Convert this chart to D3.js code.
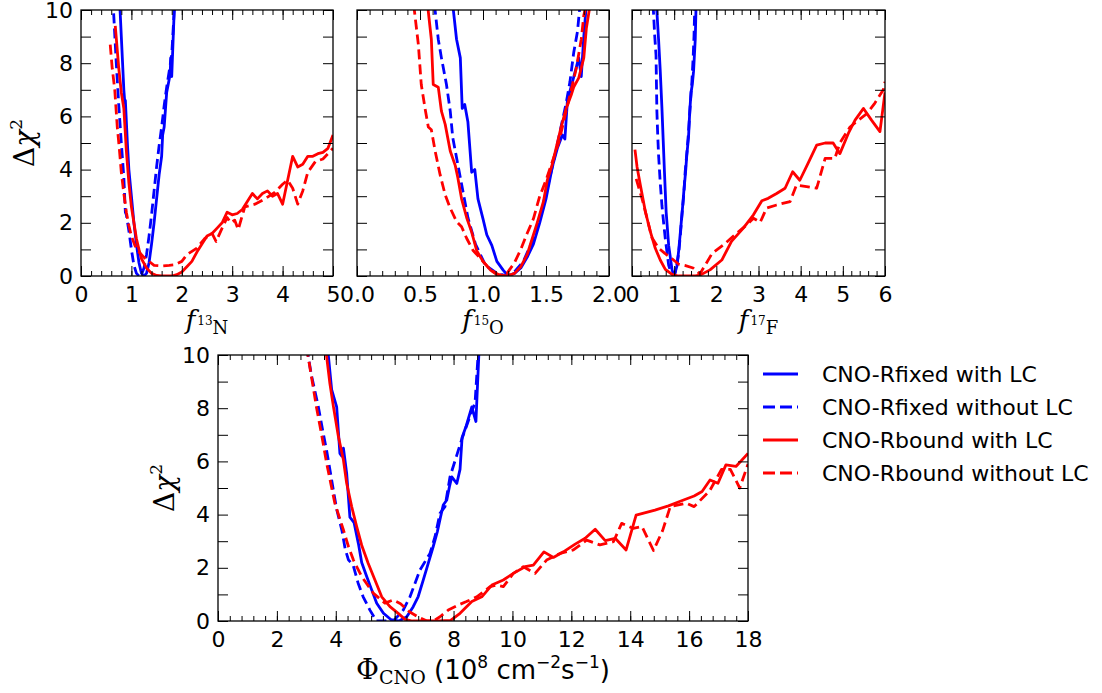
<!DOCTYPE html>
<html>
<head>
<meta charset="utf-8">
<script src="https://cdn.jsdelivr.net/npm/d3@7"></script>
<style>
body{margin:0;background:#fff;}
svg{display:block;}
.tick text{font-family:"DejaVu Sans",sans-serif;font-size:22px;fill:#000;}
.tick line{stroke:#000;stroke-width:1;}
</style>
</head>
<body>
<svg width="1102" height="693"></svg>
<script>
// ---- data: [x, delta chi2] ----
var n13FixedLC = [[0.75,11],[0.80,9.0],[0.85,7.0],[0.87,6.5],[0.88,6.6],[0.92,5.0],[0.95,4.0],[1.00,3.0],[1.05,2.0],[1.10,1.2],[1.15,0.5],[1.20,0.1],[1.25,0.0],[1.30,0.1],[1.35,0.5],[1.40,1.2],[1.45,2.0],[1.50,2.9],[1.55,3.8],[1.60,4.5],[1.62,5.3],[1.65,5.6],[1.70,6.9],[1.75,7.4],[1.77,7.6],[1.78,8.2],[1.80,7.5],[1.82,8.5],[1.85,10],[1.88,11]];
var n13FixedNoLC = [[0.62,11],[0.65,9.8],[0.70,8.0],[0.75,6.4],[0.80,5.0],[0.85,3.7],[0.88,2.4],[0.90,2.3],[0.95,1.7],[1.00,1.0],[1.05,0.4],[1.10,0.1],[1.15,0.0],[1.20,0.05],[1.25,0.3],[1.30,0.8],[1.35,1.5],[1.40,2.3],[1.45,3.2],[1.50,4.1],[1.55,4.9],[1.60,5.6],[1.65,6.4],[1.70,7.1],[1.75,7.7],[1.80,8.3],[1.85,10],[1.87,11]];
var n13BoundLC = [[0.68,9.4],[0.75,7.8],[0.80,6.9],[0.85,6.3],[0.90,4.7],[0.95,3.5],[1.00,2.6],[1.05,2.0],[1.10,1.4],[1.15,1.0],[1.20,0.65],[1.30,0.3],[1.40,0.1],[1.50,0.02],[1.60,0],[1.70,0],[1.80,0],[1.90,0.05],[2.0,0.15],[2.1,0.35],[2.2,0.55],[2.3,0.9],[2.4,1.2],[2.5,1.5],[2.6,1.6],[2.7,1.8],[2.8,2.0],[2.9,2.4],[3.0,2.3],[3.1,2.35],[3.2,2.5],[3.3,2.8],[3.4,3.1],[3.5,2.9],[3.6,3.1],[3.7,3.2],[3.8,3.0],[3.9,3.1],[4.0,2.7],[4.1,3.6],[4.2,4.5],[4.3,4.1],[4.4,4.2],[4.5,4.5],[4.6,4.5],[4.7,4.6],[4.8,4.65],[4.9,4.8],[5.0,5.3]];
var n13BoundNoLC = [[0.58,8.7],[0.62,7.8],[0.67,7.0],[0.72,5.6],[0.76,4.8],[0.80,3.9],[0.85,3.1],[0.90,2.4],[0.95,1.9],[1.0,1.5],[1.07,1.15],[1.15,0.9],[1.25,0.7],[1.35,0.55],[1.45,0.4],[1.6,0.38],[1.75,0.4],[1.85,0.42],[2.0,0.55],[2.1,0.8],[2.3,1.05],[2.45,1.4],[2.6,1.6],[2.68,1.3],[2.8,1.8],[2.9,2.2],[2.97,2.0],[3.05,2.1],[3.12,1.75],[3.25,2.6],[3.45,2.7],[3.65,2.9],[3.85,3.15],[4.0,3.45],[4.1,3.6],[4.2,3.3],[4.3,2.7],[4.4,3.2],[4.5,3.9],[4.65,4.3],[4.8,4.4],[4.9,4.6],[5.0,4.8]];

var o15FixedLC = [[0.76,10.2],[0.79,8.9],[0.82,8.2],[0.835,6.3],[0.855,6.45],[0.88,5.8],[0.91,3.9],[0.935,4.0],[0.96,2.9],[1.0,2.15],[1.03,1.55],[1.07,1.15],[1.11,0.55],[1.16,0.22],[1.20,0.0],[1.25,0.1],[1.30,0.3],[1.35,0.7],[1.40,1.2],[1.45,2.0],[1.50,2.9],[1.55,4.1],[1.59,4.8],[1.63,5.3],[1.65,5.15],[1.67,6.6],[1.71,7.3],[1.76,8.2],[1.78,7.5],[1.80,9.0],[1.82,10.2]];
var o15FixedNoLC = [[0.615,10.2],[0.645,8.9],[0.67,8.2],[0.71,7.2],[0.74,6.2],[0.76,5.2],[0.80,4.2],[0.84,3.2],[0.88,2.2],[0.94,1.2],[1.02,0.4],[1.11,0.1],[1.19,0.0],[1.24,0.1],[1.32,0.55],[1.40,1.4],[1.46,2.4],[1.51,3.3],[1.56,4.3],[1.61,5.4],[1.66,6.5],[1.69,7.3],[1.72,8.4],[1.75,9.2],[1.77,10.2]];
var o15BoundLC = [[0.56,10.2],[0.59,8.9],[0.605,7.2],[0.645,7.1],[0.67,6.2],[0.70,5.7],[0.74,4.7],[0.78,4.15],[0.80,3.7],[0.83,2.9],[0.87,2.2],[0.91,1.65],[0.95,0.95],[1.0,0.55],[1.06,0.22],[1.11,0.05],[1.19,0.0],[1.25,0.1],[1.30,0.35],[1.35,0.8],[1.43,2.0],[1.48,2.8],[1.51,3.6],[1.55,4.2],[1.585,4.9],[1.62,5.6],[1.66,6.3],[1.70,6.8],[1.72,7.1],[1.76,7.45],[1.80,8.2],[1.82,9.3],[1.85,10.2]];
var o15BoundNoLC = [[0.45,10.2],[0.487,8.7],[0.51,7.2],[0.54,6.3],[0.566,5.6],[0.59,5.5],[0.62,4.7],[0.66,3.8],[0.70,3.05],[0.74,2.55],[0.79,2.05],[0.83,1.85],[0.87,1.42],[0.92,0.97],[0.99,0.6],[1.06,0.23],[1.13,0.03],[1.19,0.1],[1.25,0.5],[1.30,1.0],[1.35,1.6],[1.40,2.15],[1.45,3.0],[1.50,3.6],[1.55,4.3],[1.60,5.0],[1.65,6.0],[1.70,7.0],[1.74,7.8],[1.78,8.9],[1.80,9.8],[1.82,10.2]];

var f17FixedLC = [[0.58,10.2],[0.63,8.9],[0.67,7.7],[0.71,6.3],[0.74,5.1],[0.77,3.9],[0.81,2.4],[0.87,1.15],[0.95,0.23],[1.0,0.0],[1.07,0.4],[1.11,1.0],[1.15,1.7],[1.20,2.6],[1.23,3.2],[1.27,3.9],[1.30,4.55],[1.34,5.2],[1.37,6.2],[1.40,6.9],[1.43,7.2],[1.46,7.7],[1.50,8.9],[1.52,10.2]];
var f17FixedNoLC = [[0.50,10.2],[0.54,9.0],[0.57,8.3],[0.58,7.2],[0.59,6.2],[0.61,5.3],[0.63,4.55],[0.67,3.5],[0.71,2.65],[0.75,2.0],[0.79,1.4],[0.83,0.9],[0.87,0.4],[0.93,0.1],[1.0,0.0],[1.05,0.3],[1.11,0.9],[1.15,1.6],[1.19,2.4],[1.23,3.1],[1.26,3.9],[1.30,4.6],[1.34,5.4],[1.38,6.4],[1.42,7.3],[1.45,8.2],[1.47,9.0],[1.49,10.2]];
var f17BoundLC = [[0.07,4.75],[0.12,4.1],[0.2,3.4],[0.32,2.4],[0.43,1.7],[0.55,1.05],[0.67,0.6],[0.79,0.25],[0.95,0.06],[1.1,0.0],[1.3,0.0],[1.5,0.0],[1.61,0.03],[1.85,0.23],[2.13,0.6],[2.36,1.3],[2.64,1.8],[2.88,2.3],[3.08,2.83],[3.23,2.92],[3.43,3.1],[3.63,3.3],[3.81,3.92],[3.98,3.6],[4.18,4.25],[4.38,4.92],[4.58,5.0],[4.77,5.0],[4.93,4.6],[5.13,5.36],[5.29,5.86],[5.49,6.3],[5.68,5.86],[5.88,5.43],[6.0,6.9]];
var f17BoundNoLC = [[0.10,3.65],[0.24,2.9],[0.36,2.15],[0.47,1.45],[0.63,1.05],[0.78,0.85],[0.95,0.65],[1.1,0.45],[1.25,0.4],[1.45,0.3],[1.61,0.08],[1.77,0.5],[1.90,0.85],[2.17,1.17],[2.44,1.55],[2.72,1.92],[2.88,2.17],[3.04,2.02],[3.19,2.55],[3.43,2.67],[3.75,2.8],[3.90,3.42],[4.14,3.36],[4.38,3.3],[4.58,4.42],[4.81,4.42],[4.93,5.0],[5.17,5.6],[5.37,5.86],[5.57,6.1],[5.76,6.5],[5.96,7.0],[6.0,7.3]];

var cnoFixedLC = [[3.72,10.3],[3.86,8.7],[4.03,8.05],[4.14,6.3],[4.2,6.2],[4.26,6.5],[4.37,5.55],[4.48,3.9],[4.55,3.8],[4.62,3.7],[4.77,2.9],[4.88,2.2],[5.05,1.67],[5.22,1.17],[5.39,0.67],[5.62,0.29],[5.90,0.03],[6.15,0.0],[6.41,0.16],[6.63,0.54],[6.80,0.92],[6.97,1.54],[7.14,2.17],[7.31,2.8],[7.45,3.36],[7.56,3.92],[7.65,4.36],[7.77,4.55],[7.86,5.05],[7.94,5.42],[8.11,5.17],[8.22,5.7],[8.29,6.9],[8.42,7.3],[8.62,8.05],[8.76,7.5],[8.87,10.3]];
var cnoFixedNoLC = [[3.02,10.3],[3.07,9.9],[3.18,9.2],[3.40,8.1],[3.55,7.2],[3.69,6.4],[3.80,5.7],[3.92,4.9],[4.03,4.2],[4.21,3.4],[4.32,2.7],[4.43,2.3],[4.59,2.1],[4.76,1.42],[4.93,0.91],[5.16,0.41],[5.38,0.0],[5.7,0.0],[6.0,0.05],[6.29,0.41],[6.52,0.91],[6.86,1.92],[7.2,2.54],[7.37,3.17],[7.54,4.05],[7.71,4.3],[7.88,5.42],[8.1,6.2],[8.3,6.9],[8.56,7.7],[8.73,8.2],[8.85,10.3]];
var cnoBoundLC = [[3.65,10.3],[3.80,8.93],[3.92,8.06],[4.09,6.93],[4.26,6.05],[4.37,5.18],[4.54,4.3],[4.71,3.55],[4.88,2.85],[5.10,2.17],[5.33,1.54],[5.56,0.91],[5.84,0.54],[6.12,0.29],[6.35,0.06],[6.6,0.0],[7.0,0.0],[7.5,0.0],[7.9,0.02],[8.22,0.29],[8.62,0.73],[8.96,0.91],[9.30,1.35],[9.69,1.54],[10.03,1.79],[10.43,2.04],[10.71,2.1],[11.07,2.6],[11.39,2.39],[11.73,2.6],[12.13,2.89],[12.47,3.11],[12.81,3.45],[13.15,3.02],[13.49,3.11],[13.86,2.67],[14.2,3.98],[14.84,4.17],[15.3,4.33],[15.7,4.5],[16.17,4.7],[16.44,4.87],[16.71,5.3],[16.98,5.18],[17.25,5.87],[17.59,5.81],[18.0,6.3]];
var cnoBoundNoLC = [[3.0,10.3],[3.07,9.88],[3.35,8.0],[3.52,7.0],[3.69,5.93],[3.97,4.42],[4.26,3.42],[4.43,2.8],[4.6,2.29],[4.88,1.67],[5.28,1.04],[5.67,0.67],[5.95,0.79],[6.2,0.65],[6.5,0.35],[6.8,0.15],[7.1,0.0],[7.31,0.0],[7.54,0.16],[7.82,0.41],[8.16,0.6],[8.44,0.73],[8.79,0.91],[9.24,1.29],[9.45,1.35],[9.69,1.29],[10.03,1.79],[10.37,2.04],[10.77,1.79],[11.16,2.29],[11.62,2.54],[12.07,2.67],[12.52,3.04],[12.97,2.86],[13.43,2.98],[13.71,3.67],[14.1,3.48],[14.4,3.55],[14.62,3.04],[14.79,2.65],[15.1,3.4],[15.36,4.3],[15.9,4.43],[16.17,4.3],[16.7,4.9],[17.1,5.7],[17.4,5.7],[17.72,5.0],[18.0,5.9]];

var legendLabels = ["CNO-Rfixed with LC","CNO-Rfixed without LC","CNO-Rbound with LC","CNO-Rbound without LC"];
var seriesColors = ["#0000ff","#0000ff","#ff0000","#ff0000"];
var seriesDashed = [false,true,false,true];
var yTicks = [0,1,2,3,4,5,6,7,8,9,10];

var svg = d3.select("svg");
var serif = "'DejaVu Serif',serif";

var panels = [
  {id:"n13", L:81, R:333, T:10, B:276, xmax:5, major:1, minor:0.2, fmt:d3.format("d"), ylab:34,
   series:[n13FixedLC,n13FixedNoLC,n13BoundLC,n13BoundNoLC], iso:"13", el:"N"},
  {id:"o15", L:357, R:609, T:10, B:276, xmax:2, major:0.5, minor:0.1, fmt:d3.format(".1f"), ylab:0,
   series:[o15FixedLC,o15FixedNoLC,o15BoundLC,o15BoundNoLC], iso:"15", el:"O"},
  {id:"f17", L:632, R:885, T:10, B:276, xmax:6, major:1, minor:0.2, fmt:d3.format("d"), ylab:0,
   series:[f17FixedLC,f17FixedNoLC,f17BoundLC,f17BoundNoLC], iso:"17", el:"F"},
  {id:"cno", L:218, R:748, T:355, B:621, xmax:18, major:2, minor:0.4, fmt:d3.format("d"), ylab:174,
   series:[cnoFixedLC,cnoFixedNoLC,cnoBoundLC,cnoBoundNoLC]}
];

function steps(max, step){
  var n = Math.round(max/step), out = [];
  for (var i=0;i<=n;i++) out.push(+(i*step).toFixed(3));
  return out;
}

panels.forEach(function(p){
  var x = d3.scaleLinear().domain([0,p.xmax]).range([p.L,p.R]);
  var y = d3.scaleLinear().domain([0,10]).range([p.B,p.T]);
  var g = svg.append("g");

  g.append("clipPath").attr("id","clip-"+p.id)
   .append("rect").attr("x",p.L).attr("y",p.T).attr("width",p.R-p.L).attr("height",p.B-p.T);

  var line = d3.line().x(function(d){return x(d[0]);}).y(function(d){return y(d[1]);});
  var curves = g.append("g").attr("clip-path","url(#clip-"+p.id+")");
  p.series.forEach(function(s,i){
    curves.append("path").datum(s)
      .attr("d",line)
      .attr("fill","none")
      .attr("stroke",seriesColors[i])
      .attr("stroke-width",2.8)
      .attr("stroke-linejoin","round")
      .attr("stroke-dasharray",seriesDashed[i] ? "10,5" : null);
  });

  var majors = steps(p.xmax,p.major), minors = steps(p.xmax,p.minor);
  // x axes, ticks pointing inward
  g.append("g").attr("transform","translate(0,"+p.B+")")
   .call(d3.axisBottom(x).tickValues(minors).tickSize(-5).tickFormat(""));
  g.append("g").attr("transform","translate(0,"+p.B+")")
   .call(d3.axisBottom(x).tickValues(majors).tickSize(-10).tickPadding(10).tickFormat(p.fmt));
  g.append("g").attr("transform","translate(0,"+p.T+")")
   .call(d3.axisTop(x).tickValues(minors).tickSize(-5).tickFormat(""));
  g.append("g").attr("transform","translate(0,"+p.T+")")
   .call(d3.axisTop(x).tickValues(majors).tickSize(-10).tickFormat(""));
  // y axes
  g.append("g").attr("transform","translate("+p.L+",0)")
   .call(d3.axisLeft(y).tickValues(yTicks).tickSize(-10).tickPadding(8)
     .tickFormat(function(d){return (p.ylab && d%2===0) ? d : "";}));
  g.append("g").attr("transform","translate("+p.R+",0)")
   .call(d3.axisRight(y).tickValues(yTicks).tickSize(-10).tickFormat(""));

  g.selectAll(".domain").remove();

  g.append("rect").attr("x",p.L).attr("y",p.T).attr("width",p.R-p.L).attr("height",p.B-p.T)
   .attr("fill","none").attr("stroke","#000").attr("stroke-width",1.3);

  // y label
  if (p.ylab){
    var yl = g.append("text")
      .attr("transform","translate("+p.ylab+","+((p.T+p.B)/2)+") rotate(-90)")
      .attr("text-anchor","middle")
      .attr("font-family",serif).attr("font-size",28);
    yl.append("tspan").text("\u0394");
    yl.append("tspan").attr("font-style","italic").text("\u03c7");
    yl.append("tspan").attr("font-size",17).attr("dy",-12).text("2");
  }

  // x label
  if (p.el){
    var xl = g.append("text").attr("x",(p.L+p.R)/2).attr("y",329)
      .attr("text-anchor","middle").attr("font-family",serif);
    xl.append("tspan").attr("font-size",26).attr("font-style","italic").text("f");
    xl.append("tspan").attr("font-size",12).attr("dx",2).attr("dy",-4).text(p.iso);
    xl.append("tspan").attr("font-size",18).attr("dy",9).text(p.el);
  } else {
    var bl = g.append("text").attr("x",(p.L+p.R)/2).attr("y",679)
      .attr("text-anchor","middle").attr("font-family","'DejaVu Sans',sans-serif").attr("font-size",26);
    bl.append("tspan").attr("font-family",serif).attr("font-size",28).text("\u03a6");
    bl.append("tspan").attr("font-family",serif).attr("font-size",19).attr("dy",5).text("CNO");
    bl.append("tspan").attr("dy",-5).text(" (10");
    bl.append("tspan").attr("font-size",17).attr("dy",-11).text("8");
    bl.append("tspan").attr("dy",11).text(" cm");
    bl.append("tspan").attr("font-size",17).attr("dy",-11).text("\u22122");
    bl.append("tspan").attr("dy",11).text("s");
    bl.append("tspan").attr("font-size",17).attr("dy",-11).text("\u22121");
    bl.append("tspan").attr("dy",11).text(")");
  }
});

// legend
var leg = svg.append("g");
legendLabels.forEach(function(t,i){
  var ly = 374 + i*33;
  leg.append("line").attr("x1",763).attr("x2",798).attr("y1",ly).attr("y2",ly)
    .attr("stroke",seriesColors[i]).attr("stroke-width",2.8)
    .attr("stroke-dasharray",seriesDashed[i] ? "12,5" : null);
  leg.append("text").attr("x",822).attr("y",ly).attr("dy","0.36em")
    .attr("font-family","'DejaVu Sans',sans-serif").attr("font-size",22).text(t);
});
</script>
</body>
</html>
